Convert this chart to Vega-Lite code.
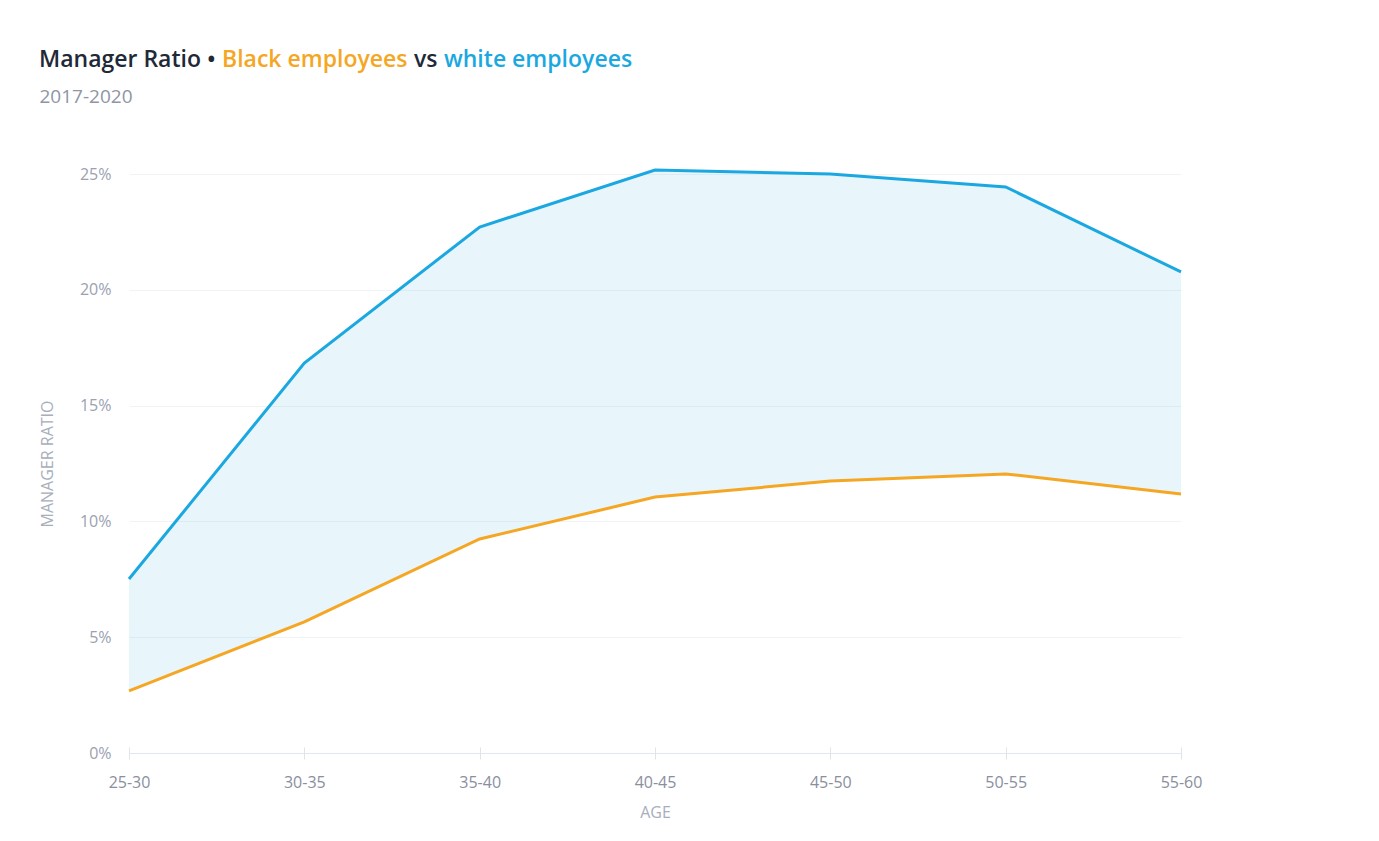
{
  "$schema": "https://vega.github.io/schema/vega-lite/v6.json",
  "background": "white",
  "padding": {"left": 39, "top": 48, "right": 10, "bottom": 5},
  "config": {"view": {"stroke": null}, "font": "Open Sans"},
  "datasets": {
    "ratio": [
      {"age": "25-30", "black": 0.0268, "white": 0.0751},
      {"age": "30-35", "black": 0.0566, "white": 0.1684},
      {"age": "35-40", "black": 0.0924, "white": 0.2271},
      {"age": "40-45", "black": 0.1105, "white": 0.2517},
      {"age": "45-50", "black": 0.1174, "white": 0.2500},
      {"age": "50-55", "black": 0.1205, "white": 0.2444},
      {"age": "55-60", "black": 0.1118, "white": 0.2077}
    ],
    "blank": [{"k": 1}]
  },
  "columns": 1,
  "align": "none",
  "spacing": 5,
  "concat": [
    {
      "hconcat": [
        {"data": {"name": "blank"}, "mark": {"type": "text", "text": ""}, "encoding": {}, "width": 1, "height": 1,
         "title": {"text": "Manager Ratio •", "color": "#1f2937", "fontSize": 23, "fontWeight": 600, "anchor": "start", "offset": 0, "dx": -90}},
        {"data": {"name": "blank"}, "mark": {"type": "text", "text": ""}, "encoding": {}, "width": 1, "height": 1,
         "title": {"text": "Black employees", "color": "#f5a623", "fontSize": 23, "fontWeight": 600, "anchor": "start", "offset": 0}},
        {"data": {"name": "blank"}, "mark": {"type": "text", "text": ""}, "encoding": {}, "width": 1, "height": 1,
         "title": {"text": "vs", "color": "#1f2937", "fontSize": 23, "fontWeight": 600, "anchor": "start", "offset": 0}},
        {"data": {"name": "blank"}, "mark": {"type": "text", "text": ""}, "encoding": {}, "width": 1, "height": 1,
         "title": {"text": "white employees", "color": "#1ba8e0", "fontSize": 23, "fontWeight": 600, "anchor": "start", "offset": 0}}
      ],
      "spacing": 6
    },
    {
      "data": {"name": "ratio"},
      "width": 1052,
      "height": 579,
      "title": {"text": "2017-2020", "color": "#8e95a5", "fontSize": 19, "fontWeight": 400, "anchor": "start", "offset": 57},
      "encoding": {
        "x": {
          "field": "age", "type": "ordinal", "scale": {"type": "point", "padding": 0},
          "axis": {
            "title": "AGE", "labelAngle": 0, "domain": false, "offset": -6, "tickSize": 12,
            "tickColor": "#dfe3ea", "labelColor": "#8a8fa0", "labelFontSize": 16, "labelPadding": 15,
            "titleColor": "#a9aebb", "titleFontSize": 16, "titleFontWeight": 400, "titlePadding": 14, "grid": false
          }
        }
      },
      "layer": [
        {
          "mark": {"type": "area", "color": "#1ba8e0", "opacity": 0.1},
          "encoding": {
            "y": {
              "field": "white", "type": "quantitative", "scale": {"domain": [0, 0.25], "nice": false},
              "axis": {
                "title": "MANAGER RATIO", "format": "~%", "values": [0, 0.05, 0.1, 0.15, 0.2, 0.25],
                "domain": false, "ticks": false, "labelPadding": 18, "labelColor": "#9ba1b1", "labelFontSize": 16,
                "titleColor": "#a9aebb", "titleFontSize": 16, "titleFontWeight": 400, "titlePadding": 24,
                "gridColor": {"condition": {"test": "datum.value === 0", "value": "#e2e6ee"}, "value": "#f1f3f6"}
              }
            },
            "y2": {"field": "black"}
          }
        },
        {
          "mark": {"type": "line", "color": "#1ba8e0", "strokeWidth": 3},
          "encoding": {"y": {"field": "white", "type": "quantitative", "scale": {"domain": [0, 0.25], "nice": false}}}
        },
        {
          "mark": {"type": "line", "color": "#f5a623", "strokeWidth": 3},
          "encoding": {"y": {"field": "black", "type": "quantitative", "scale": {"domain": [0, 0.25], "nice": false}}}
        }
      ]
    }
  ]
}
